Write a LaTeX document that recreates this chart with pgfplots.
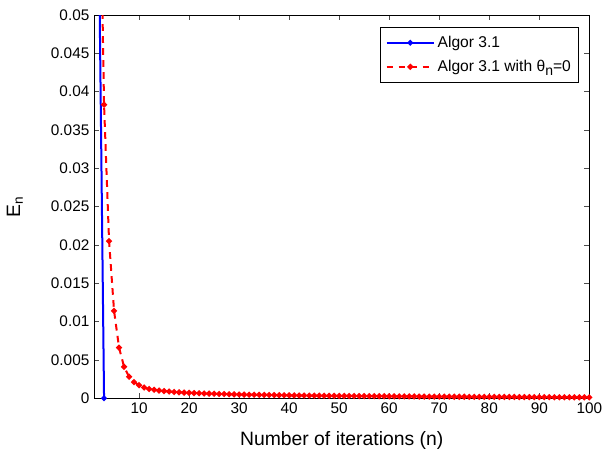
\documentclass[border=0pt]{standalone}
\usepackage{fontspec}
\setmainfont{Liberation Sans}
\usepackage{pgfplots}
\pgfplotsset{compat=1.18}

\pgfplotstableread{
n  E
2  0.058
3  0
}\algor

\pgfplotstableread{
n  E
2  0.077
3  0.0383
4  0.0205
5  0.0114
6  0.0066
7  0.0041
8  0.0028
9  0.0021
10 0.0017
11 0.0014
12 0.0012
13 0.0011
14 0.0010
15 0.00093
16 0.00087
17 0.00081
18 0.00077
19 0.00073
20 0.00070
21 0.00067
22 0.00064
23 0.00062
24 0.00060
25 0.00058
26 0.00056
27 0.00054
28 0.00052
29 0.00050
30 0.00048
31 0.00047
32 0.00046
33 0.00045
34 0.00044
35 0.00043
36 0.00042
37 0.00041
38 0.00040
39 0.00039
40 0.00038
41 0.00037
42 0.00036
43 0.00035
44 0.00034
45 0.00034
46 0.00033
47 0.00032
48 0.00031
49 0.00031
50 0.00030
51 0.00030
52 0.00029
53 0.00029
54 0.00028
55 0.00028
56 0.00027
57 0.00027
58 0.00026
59 0.00026
60 0.00025
61 0.00025
62 0.00024
63 0.00024
64 0.00023
65 0.00023
66 0.00022
67 0.00022
68 0.00021
69 0.00021
70 0.00020
71 0.00020
72 0.00020
73 0.00019
74 0.00019
75 0.00019
76 0.00018
77 0.00018
78 0.00018
79 0.00017
80 0.00017
81 0.00017
82 0.00016
83 0.00016
84 0.00016
85 0.00016
86 0.00015
87 0.00015
88 0.00015
89 0.00014
90 0.00014
91 0.00014
92 0.00014
93 0.00013
94 0.00013
95 0.00013
96 0.00013
97 0.00012
98 0.00012
99 0.00012
100 0.00011
}\zerotheta

\begin{document}
\begin{tikzpicture}
  \useasboundingbox (0,0) rectangle (455pt,340.5pt);
  \begin{axis}[
    at={(70.5pt,42pt)}, anchor=south west,
    scale only axis,
    width=371.25pt, height=287.25pt,
    xmin=1, xmax=100,
    ymin=0, ymax=0.05,
    xtick={10,20,...,100},
    ytick={0,0.005,...,0.05},
    scaled y ticks=false,
    yticklabel style={/pgf/number format/.cd, fixed, precision=3},
    /pgf/number format/assume math mode=true,
    tick label style={font=\fontsize{11.5}{13}\selectfont},
    tick align=inside,
    major tick length=4pt,
    tick style={black!70, line width=0.5pt},
    axis line style={line width=0.7pt},
    xlabel={Number of iterations (n)},
    ylabel={E\textsubscript{n}},
    label style={font=\fontsize{14.5}{16}\selectfont},
    xlabel style={at={(axis description cs:0.5,-0.11)}, anchor=center},
    ylabel style={at={(axis description cs:-0.16,0.5)}, anchor=center},
    legend style={
      at={(axis description cs:1,1)}, xshift=-7.5pt, yshift=-9pt,
      anchor=north east, draw=black, line width=0.7pt,
      font=\fontsize{11.7}{14}\selectfont,
      row sep=4pt, inner xsep=4pt, inner ysep=4.5pt,
    },
    legend cell align=left,
    legend image code/.code={
      \draw[#1] (0cm,0cm) -- (1.25cm,0cm);
      \draw[#1, solid] plot coordinates {(0.625cm,0cm)};
    },
  ]
    \addplot[blue, line width=1.5pt, mark=*, mark size=1.3pt]
      table[x=n, y=E] {\algor};
    \addlegendentry{Algor 3.1}
    \addplot[red, line width=1.5pt, dash pattern=on 5pt off 4pt,
             mark=*, mark size=1.4pt, mark options={solid}]
      table[x=n, y=E] {\zerotheta};
    \addlegendentry{Algor 3.1 with θ\raisebox{-0.45ex}{\fontsize{10.5}{12}\selectfont n}=0}
  \end{axis}
\end{tikzpicture}
\end{document}
